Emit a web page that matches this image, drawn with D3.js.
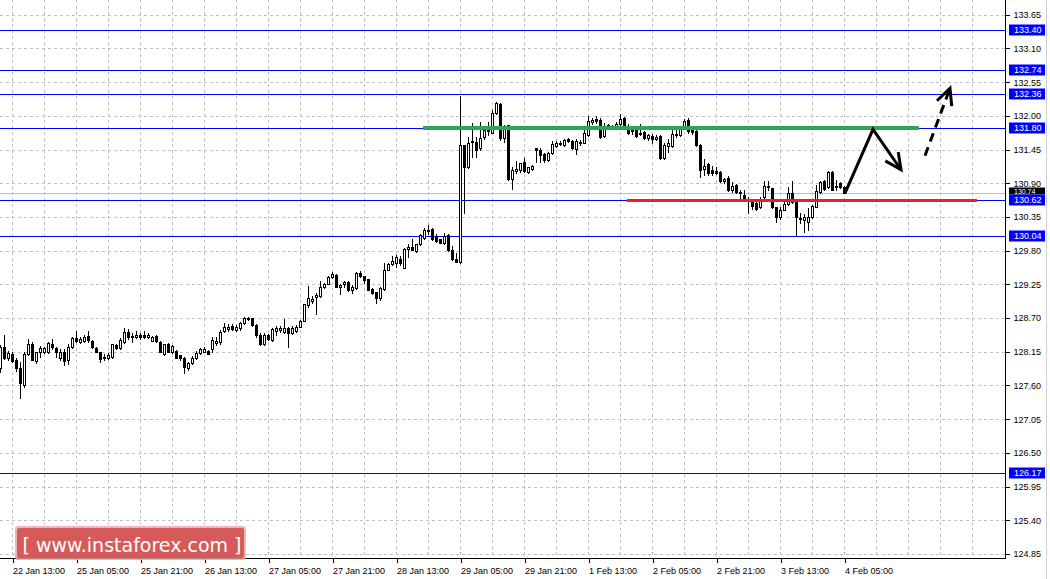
<!DOCTYPE html>
<html><head><meta charset="utf-8">
<script src="https://cdn.jsdelivr.net/npm/d3@7"></script>
<style>html,body{margin:0;padding:0;background:#fff;}svg{display:block;}</style>
</head><body>
<svg id="c" width="1050" height="579"></svg>
<script>
// ---------- DATA (H1 candles) ----------
const openP = [
127.89,128.23,128.05,128.11,128.02,127.89,127.61,128.11,128.28,128.00,
128.15,128.15,128.15,128.28,128.21,128.05,128.15,128.02,128.23,128.38,
128.31,128.33,128.41,128.33,128.21,128.15,128.07,128.05,128.07,128.26,
128.21,128.31,128.47,128.39,128.39,128.42,128.42,128.39,128.33,128.41,
128.31,128.11,128.28,128.15,128.16,128.10,128.05,127.89,127.97,128.05,
128.13,128.15,128.16,128.20,
128.29,128.31,128.49,128.52,128.57,128.51,128.54,128.62,128.70,128.70,
128.59,128.42,128.28,128.42,128.34,128.49,128.51,128.47,128.54,128.46,
128.49,128.55,128.65,128.91,128.98,129.04,129.06,129.21,129.26,129.37,
129.40,129.21,129.26,129.29,129.16,129.19,129.44,129.39,129.34,129.18,
129.13,129.03,129.17,129.48,129.58,129.60,129.67,129.52,129.83,129.86,
129.79,129.91,130.01,130.12,130.15,
130.04,129.99,129.92,130.06,129.81,129.66,129.61,131.52,131.17,131.57,
131.57,131.48,131.65,131.75,131.72,132.05,132.19,131.64,131.85,130.97,
131.10,131.12,131.25,131.08,131.13,131.48,131.44,131.38,131.28,131.39,
131.51,131.54,131.52,131.62,131.59,131.46,131.57,131.56,131.69,131.90,
131.95,131.93,131.67,131.85,131.80,131.82,131.87,131.97,131.79,131.77,
131.77,131.72,131.74,131.64,
131.67,131.62,131.67,131.31,131.51,131.51,131.69,131.69,131.83,131.93,
131.79,131.75,131.52,131.13,131.21,131.12,131.10,131.08,130.94,130.99,
130.79,130.87,130.76,130.71,130.64,130.59,130.58,130.51,130.67,130.84,
130.82,130.51,130.35,130.46,130.56,130.74,130.63,130.33,130.30,130.27,
130.35,130.51,130.76,130.94,130.84,131.08,130.86,130.90,130.84
];
const closeP = [
128.23,128.05,128.13,128.00,127.89,127.64,128.11,128.28,128.02,128.15,
128.21,128.21,128.29,128.23,128.15,128.15,128.00,128.23,128.38,128.33,
128.36,128.39,128.34,128.23,128.15,128.03,128.05,128.10,128.28,128.21,
128.34,128.47,128.39,128.40,128.42,128.39,128.39,128.42,128.39,128.33,
128.15,128.28,128.15,128.24,128.05,128.05,127.90,127.97,128.05,128.13,
128.20,128.20,128.11,128.34,
128.33,128.47,128.55,128.55,128.52,128.55,128.62,128.70,128.68,128.59,
128.42,128.28,128.42,128.36,128.52,128.54,128.54,128.54,128.46,128.54,
128.55,128.65,128.93,129.03,129.01,129.08,129.21,129.26,129.37,129.42,
129.21,129.24,129.29,129.16,129.21,129.44,129.39,129.32,129.16,129.11,
129.03,129.19,129.48,129.58,129.63,129.70,129.60,129.83,129.86,129.81,
129.91,130.06,130.14,130.13,129.99,
129.96,129.92,130.04,129.81,129.66,129.61,131.52,131.17,131.56,131.59,
131.44,131.64,131.77,131.77,132.05,132.21,131.64,131.79,130.97,131.12,
131.13,131.23,131.10,131.17,131.18,131.44,131.36,131.28,131.39,131.54,
131.56,131.56,131.61,131.59,131.48,131.59,131.56,131.72,131.92,131.93,
131.92,131.65,131.82,131.80,131.83,131.87,131.95,131.82,131.72,131.75,
131.67,131.70,131.64,131.69,
131.62,131.65,131.31,131.52,131.56,131.70,131.70,131.80,131.92,131.75,
131.74,131.52,131.12,131.18,131.07,131.07,131.07,130.94,130.97,130.79,
130.86,130.76,130.74,130.66,130.63,130.53,130.48,130.64,130.86,130.86,
130.51,130.35,130.46,130.56,130.74,130.59,130.35,130.32,130.35,130.35,
130.53,130.77,130.92,130.81,131.08,130.79,130.84,130.84,130.74
];
const highP = [
128.26,128.42,128.16,128.15,128.05,127.98,128.15,128.36,128.31,128.15,
128.24,128.23,128.31,128.36,128.23,128.20,128.20,128.28,128.39,128.49,
128.39,128.42,128.49,128.34,128.23,128.15,128.11,128.13,128.28,128.28,
128.38,128.54,128.52,128.46,128.49,128.46,128.49,128.46,128.41,128.42,
128.33,128.28,128.29,128.26,128.18,128.10,128.07,127.98,128.08,128.16,
128.21,128.23,128.18,128.39,
128.39,128.51,128.62,128.60,128.60,128.59,128.64,128.72,128.72,128.70,
128.60,128.46,128.46,128.44,128.54,128.57,128.57,128.68,128.55,128.57,
128.59,128.67,128.93,129.22,129.06,129.11,129.31,129.27,129.39,129.45,
129.42,129.26,129.31,129.31,129.24,129.45,129.47,129.39,129.34,129.19,
129.13,129.21,129.60,129.60,129.71,129.73,129.71,129.84,129.91,129.99,
129.91,130.07,130.17,130.22,130.17,
130.07,129.99,130.09,130.07,129.88,129.76,132.32,131.52,131.65,131.88,
131.65,131.90,131.82,131.90,132.10,132.23,132.21,131.85,131.85,131.17,
131.26,131.23,131.31,131.17,131.20,131.48,131.48,131.39,131.41,131.59,
131.59,131.59,131.62,131.64,131.61,131.62,131.61,131.77,132.00,131.97,
132.00,131.97,131.88,131.87,131.85,131.90,132.03,131.98,131.87,131.82,
131.79,131.87,131.75,131.70,
131.70,131.69,131.69,131.56,131.62,131.79,131.79,131.83,131.95,131.97,
131.80,131.77,131.54,131.30,131.23,131.18,131.17,131.10,130.99,131.02,
130.92,130.89,130.79,130.79,130.67,130.61,130.63,130.67,130.94,130.94,
130.82,130.51,130.51,130.59,130.84,130.94,130.64,130.41,130.40,130.50,
130.54,130.87,130.94,130.95,131.10,131.10,130.95,130.92,130.86
];
const lowP = [
127.82,128.03,128.02,127.98,127.84,127.40,127.58,128.10,128.02,127.97,
128.07,128.13,128.13,128.20,128.07,128.02,127.93,127.95,128.21,128.31,
128.29,128.31,128.31,128.21,128.15,127.98,128.02,128.03,128.05,128.20,
128.20,128.29,128.36,128.31,128.38,128.36,128.38,128.38,128.33,128.31,
128.15,128.10,128.15,128.13,128.05,128.02,127.80,127.85,127.95,128.03,
128.11,128.15,128.11,128.15,
128.26,128.28,128.47,128.49,128.51,128.49,128.51,128.60,128.67,128.57,
128.39,128.26,128.26,128.34,128.33,128.42,128.47,128.46,128.23,128.44,
128.47,128.55,128.65,128.88,128.95,128.77,129.04,129.19,129.26,129.35,
129.21,129.09,129.21,129.14,129.11,129.17,129.37,129.27,129.16,129.09,
128.95,129.00,129.16,129.48,129.57,129.53,129.57,129.52,129.70,129.81,
129.78,129.89,129.99,130.07,129.97,
129.94,129.92,129.91,129.79,129.65,129.61,129.60,130.41,131.15,131.33,
131.33,131.44,131.62,131.69,131.72,132.03,131.61,131.57,130.95,130.81,
131.07,131.08,131.08,131.07,131.12,131.25,131.25,131.25,131.26,131.38,
131.49,131.52,131.51,131.57,131.46,131.38,131.52,131.56,131.67,131.87,
131.88,131.64,131.65,131.79,131.79,131.80,131.85,131.80,131.70,131.70,
131.65,131.69,131.62,131.61,
131.56,131.61,131.30,131.30,131.41,131.49,131.65,131.67,131.80,131.72,
131.70,131.51,131.00,131.03,131.03,131.03,131.05,130.92,130.90,130.77,
130.76,130.74,130.66,130.64,130.41,130.48,130.46,130.50,130.66,130.79,
130.50,130.27,130.32,130.46,130.54,130.58,130.04,130.25,130.11,130.14,
130.33,130.51,130.74,130.79,130.82,130.79,130.79,130.82,130.74
];
const priceTicks = [133.65,133.10,132.55,132.00,131.45,130.90,130.35,129.80,129.25,128.70,128.15,127.60,127.05,126.50,125.95,125.40,124.85];
const timeLabels = ["22 Jan 13:00","25 Jan 05:00","25 Jan 21:00","26 Jan 13:00","27 Jan 05:00","27 Jan 21:00","28 Jan 13:00","29 Jan 05:00","29 Jan 21:00","1 Feb 13:00","2 Feb 05:00","2 Feb 21:00","3 Feb 13:00","4 Feb 05:00"];
const levels = [133.40,132.74,132.36,131.80,130.62,130.04,126.17];
const currentPrice = 130.74;
const resistance = {price:131.80, from:105.75, to:229.75};
const support = {price:130.62, from:156.75, to:244.25};
// forecast path as [bar index, price]
const forecastSolid = [[211.25,130.74],[218.25,131.78],[225.25,131.12]];
const forecastDashed = [[231.25,131.35],[237.5,132.45]];

// ---------- LAYOUT ----------
const W = 1050, H = 579, R = 1005, B = 558;
const svg = d3.select("#c");
const x = d3.scaleLinear().domain([0, 251.25]).range([0, R]);
const y = d3.scaleLinear().domain([124.85, 133.65]).range([554, 14.7]);
const FONT = "Liberation Sans, Arial, sans-serif";

// grid
const gridG = svg.append("g").attr("shape-rendering","crispEdges");
const vIdx = d3.range(3, 251, 8);
gridG.selectAll("line.gv").data(vIdx).join("line").attr("class","gv")
  .attr("x1", d => Math.round(x(d))+0.5).attr("x2", d => Math.round(x(d))+0.5)
  .attr("y1", 0).attr("y2", B)
  .attr("stroke", "#c0c0c0").attr("stroke-dasharray", "3,3");
gridG.selectAll("line.gh").data(priceTicks).join("line").attr("class","gh")
  .attr("x1", 0).attr("x2", R)
  .attr("y1", d => Math.round(y(d))+0.5).attr("y2", d => Math.round(y(d))+0.5)
  .attr("stroke", "#c0c0c0").attr("stroke-dasharray", "3,3");

// current price line (grey)
svg.append("line").attr("shape-rendering","crispEdges")
  .attr("x1",0).attr("x2",R)
  .attr("y1", Math.round(y(currentPrice))+0.5).attr("y2", Math.round(y(currentPrice))+0.5)
  .attr("stroke","#c0c0c0");

// level lines
svg.append("g").attr("shape-rendering","crispEdges").selectAll("line").data(levels).join("line")
  .attr("x1",0).attr("x2",R)
  .attr("y1", d => Math.round(y(d))+0.5).attr("y2", d => Math.round(y(d))+0.5)
  .attr("stroke","#0000ff");

// candles
const bars = openP.map((o,i)=>({i, o, c:closeP[i], h:highP[i], l:lowP[i]}));
const cg = svg.append("g").attr("shape-rendering","crispEdges");
bars.forEach(b => {
  const cx = Math.round(x(b.i));
  cg.append("line").attr("x1",cx+0.5).attr("x2",cx+0.5)
    .attr("y1", Math.round(y(b.h))).attr("y2", Math.round(y(b.l))+1).attr("stroke","#000");
  const yt = Math.round(y(Math.max(b.o,b.c))), yb = Math.round(y(Math.min(b.o,b.c)));
  if (b.c >= b.o) {
    cg.append("rect").attr("x", cx-0.5).attr("y", yt+0.5).attr("width", 2).attr("height", Math.max(yb-yt,1))
      .attr("fill","#fff").attr("stroke","#000");
  } else {
    cg.append("rect").attr("x", cx-1).attr("y", yt).attr("width", 3).attr("height", Math.max(yb-yt,1)+1)
      .attr("fill","#000");
  }
});

// support / resistance lines
svg.append("line").attr("x1", x(resistance.from)).attr("x2", x(resistance.to))
  .attr("y1", y(resistance.price)).attr("y2", y(resistance.price))
  .attr("stroke","#2ca84e").attr("stroke-width",4);
svg.append("line").attr("x1", x(support.from)).attr("x2", x(support.to))
  .attr("y1", y(support.price)).attr("y2", y(support.price))
  .attr("stroke","#e8202a").attr("stroke-width",3);

// forecast arrows
const line = d3.line().x(d=>x(d[0])).y(d=>y(d[1]));
svg.append("path").attr("d", line(forecastSolid)).attr("fill","none")
  .attr("stroke","#000").attr("stroke-width",3).attr("stroke-linejoin","miter");
function arrowHead(p0, p1) {
  const ax = x(p1[0]), ay = y(p1[1]), bx = x(p0[0]), by = y(p0[1]);
  const ang = Math.atan2(ay-by, ax-bx), L = 18, s = 0.45;
  const p = d3.path();
  p.moveTo(ax - L*Math.cos(ang - s), ay - L*Math.sin(ang - s));
  p.lineTo(ax, ay);
  p.lineTo(ax - L*Math.cos(ang + s), ay - L*Math.sin(ang + s));
  svg.append("path").attr("d", p.toString()).attr("fill","none").attr("stroke","#000").attr("stroke-width",3);
}
arrowHead(forecastSolid[1], forecastSolid[2]);
svg.append("path").attr("d", line(forecastDashed)).attr("fill","none")
  .attr("stroke","#000").attr("stroke-width",3).attr("stroke-dasharray","9,6");
arrowHead(forecastDashed[0], forecastDashed[1]);

// frame
const fr = svg.append("g").attr("shape-rendering","crispEdges");
fr.append("line").attr("x1",R+0.5).attr("x2",R+0.5).attr("y1",0).attr("y2",B+1).attr("stroke","#000");
fr.append("line").attr("x1",0).attr("x2",R+1).attr("y1",B+0.5).attr("y2",B+0.5).attr("stroke","#000");
fr.append("line").attr("x1",1046.5).attr("x2",1046.5).attr("y1",0).attr("y2",H).attr("stroke","#d0d0d0");

// right axis
const yAxis = d3.axisRight(y).tickValues(priceTicks).tickSize(4).tickPadding(4).tickFormat(d3.format(".2f"));
const ya = svg.append("g").attr("transform", `translate(${R+0.5},0)`).call(yAxis);
ya.select(".domain").remove();
ya.selectAll("line").attr("stroke","#000").attr("shape-rendering","crispEdges");
ya.selectAll("text").attr("font-family",FONT).attr("font-size",9).attr("fill","#000");

// bottom axis
const tickIdx = timeLabels.map((t,j)=>3+16*j);
const xAxis = d3.axisBottom(x).tickValues(tickIdx).tickSize(4).tickFormat((d,j)=>timeLabels[j]);
const xa = svg.append("g").attr("transform", `translate(0.5,${B+0.5})`).call(xAxis);
xa.select(".domain").remove();
xa.selectAll("line").attr("stroke","#000").attr("shape-rendering","crispEdges");
xa.selectAll("text").attr("font-family",FONT).attr("font-size",9).attr("fill","#000")
  .attr("text-anchor","start").attr("x",0).attr("dy","0.95em");

// level labels; the current-price label is partly covered by the 130.62 label, as in the terminal
const defs = svg.append("defs");
const cpy = Math.round(y(currentPrice));
defs.append("clipPath").attr("id","cpclip").append("rect")
  .attr("x",1005).attr("y",cpy-6).attr("width",45).attr("height",Math.round(y(levels[4]))-5.5-(cpy-6));
const lab = svg.append("g");
const allLabels = [{p:currentPrice, bg:"#000"}].concat(levels.map(p=>({p, bg:"#0000ff"})));
allLabels.forEach(d=>{
  const cy = Math.round(y(d.p));
  const g = lab.append("g");
  const isCur = d.p === currentPrice;
  if (isCur) g.attr("clip-path","url(#cpclip)");
  g.append("rect").attr("x",1009).attr("y",cy-5.5).attr("width",36).attr("height",11).attr("fill",d.bg);
  g.append("text").attr("x",1014).attr("y",isCur ? cy-1 : cy).attr("dy","0.35em").attr("font-family",FONT)
    .attr("font-size", isCur ? 7 : 9).attr("fill","#fff").text(d3.format(".2f")(d.p));
});

// logo
const logo = svg.append("g");
logo.append("rect").attr("x",15).attr("y",526).attr("width",231).attr("height",34).attr("rx",3)
  .attr("fill","#e9a3a3").attr("opacity",0.8);
logo.append("rect").attr("x",17).attr("y",528).attr("width",227).attr("height",30).attr("rx",2)
  .attr("fill","#d65a5a");
logo.append("text").attr("x",132).attr("y",545).attr("dy","0.35em").attr("text-anchor","middle")
  .attr("font-family","DejaVu Sans, sans-serif").attr("font-size",19).attr("fill","#fff")
  .text("[ www.instaforex.com ]");
</script>
</body></html>
